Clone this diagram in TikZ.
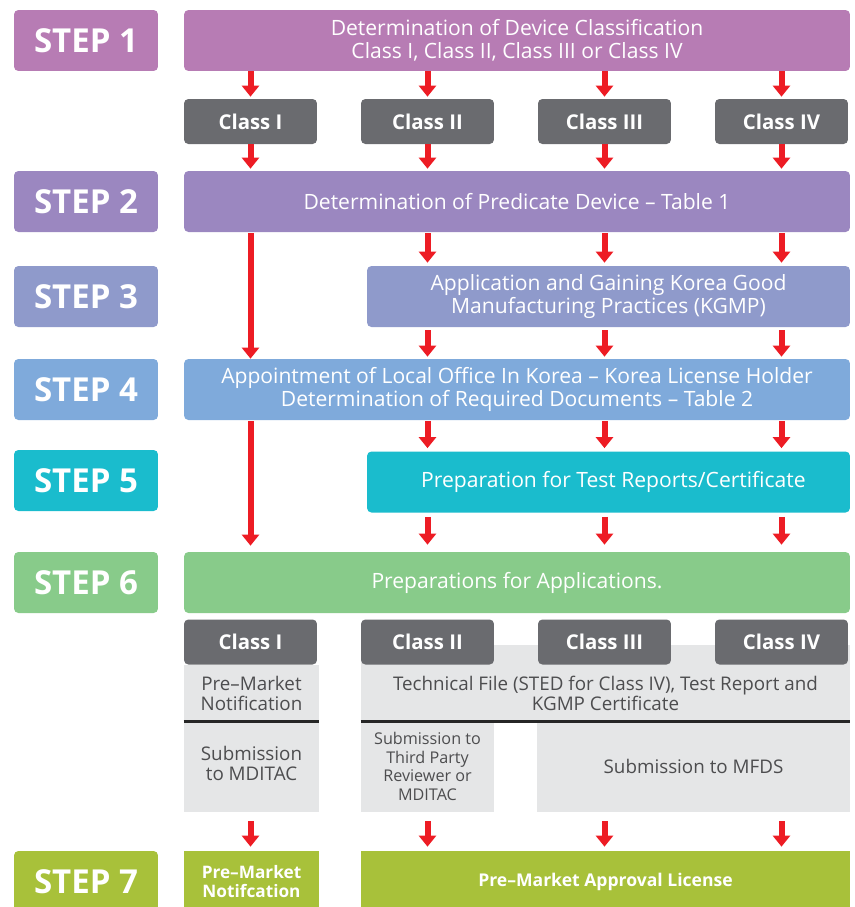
\documentclass[tikz,border=0pt]{standalone}
\usepackage{fontspec}
\setmainfont{Open Sans}
\usetikzlibrary{arrows.meta}

\definecolor{stepone}{HTML}{B77CB4}
\definecolor{steptwo}{HTML}{9B87C0}
\definecolor{stepthree}{HTML}{8F9ACB}
\definecolor{stepfour}{HTML}{7FAADB}
\definecolor{stepfive}{HTML}{1ABCCD}
\definecolor{stepsix}{HTML}{88CB8A}
\definecolor{stepseven}{HTML}{A8C13A}
\definecolor{classgray}{HTML}{6A6B6F}
\definecolor{panelgray}{HTML}{E5E6E7}
\definecolor{paneltext}{HTML}{4D4D4F}
\definecolor{arrowred}{HTML}{ED1C24}

\tikzset{
  stepbox/.style={fill=#1, rounded corners=2.5pt, text=white, inner sep=0pt,
    font=\bfseries\fontsize{18.8}{20}\selectfont,
    minimum width=2.88cm, minimum height=1.22cm},
  mainbox/.style={fill=#1, rounded corners=2.5pt, text=white, inner sep=0pt,
    align=center, font=\fontsize{12}{13.2}\selectfont, minimum height=1.22cm},
  classbox/.style={fill=classgray, rounded corners=2.5pt, text=white, inner sep=0pt,
    font=\bfseries\fontsize{11.6}{13}\selectfont,
    minimum width=2.66cm, minimum height=0.9cm},
  panel/.style={fill=panelgray, text=paneltext, inner sep=0pt, align=center,
    font=\fontsize{10.7}{11.4}\selectfont},
  divider/.style={draw=black!85, line width=0.05cm},
  redarrow/.style={draw=arrowred, line width=0.12cm,
    -{Triangle[width=0.34cm, length=0.22cm]}},
}

\begin{document}
\begin{tikzpicture}[x=0.02cm, y=-0.02cm]

\clip (0,0) rectangle (855,907);
\useasboundingbox (0,0) rectangle (855,907);

% step labels
\node[stepbox=stepone]   (l1) at (86,40.5)  {STEP 1};
\node[stepbox=steptwo]   (l2) at (86,201.5) {STEP 2};
\node[stepbox=stepthree] (l3) at (86,296.5) {STEP 3};
\node[stepbox=stepfour]  (l4) at (86,389.5) {STEP 4};
\node[stepbox=stepfive]  (l5) at (86,480.5) {STEP 5};
\node[stepbox=stepsix]   (l6) at (86,582.5) {STEP 6};
\node[stepbox=stepseven] (l7) at (86,881.5) {STEP 7};

% main boxes
\node[mainbox=stepone, minimum width=13.32cm] (s1) at (517,40.5)
  {Determination of Device Classification\\Class I, Class II, Class III or Class IV};
\node[mainbox=steptwo, minimum width=13.32cm] (s2) at (517,201.5)
  {Determination of Predicate Device – Table 1};
\node[mainbox=stepthree, minimum width=9.66cm] (s3) at (608.5,296.5)
  {Application and Gaining Korea Good\\Manufacturing Practices (KGMP)};
\node[mainbox=stepfour, minimum width=13.32cm] (s4) at (517,389.5)
  {Appointment of Local Office In Korea – Korea License Holder\\Determination of Required Documents – Table 2};
\node[mainbox=stepfive, minimum width=9.66cm] (s5) at (608.5,482)
  {\hspace{0.2cm}Preparation for Test Reports/Certificate};
\node[mainbox=stepsix, minimum width=13.32cm] (s6) at (517,582.5)
  {Preparations for Applications.};

% classes after step 1
\node[classbox] (ca) at (250.5,121.5) {Class I};
\node[classbox] (cb) at (427.5,121.5) {Class II};
\node[classbox] (cc) at (604.5,121.5) {Class III};
\node[classbox] (cd) at (781.5,121.5) {Class IV};

% panels under step 6
\fill[panelgray] (361,645) rectangle (850,665);
\node[panel, minimum width=2.7cm, minimum height=1.12cm] (pa) at (251.5,693)
  {Pre–Market\\Notification};
\node[panel, minimum width=2.7cm, minimum height=1.82cm] (pb) at (251.5,766.5)
  {Submission\\to MDITAC\\[-0.26cm]};
\node[panel, minimum width=9.78cm, minimum height=1.12cm] (pc) at (605.5,693)
  {Technical File (STED for Class IV), Test Report and\\KGMP Certificate};
\node[panel, minimum width=2.66cm, minimum height=1.82cm,
  font=\fontsize{9.2}{10.6}\selectfont] (pd) at (427.5,766.5)
  {Submission to\\Third Party\\Reviewer or\\MDITAC};
\node[panel, minimum width=6.26cm, minimum height=1.82cm] (pe) at (693.5,766.5)
  {Submission to MFDS};
\draw[divider] (pa.south west) -- (pa.south east);
\draw[divider] (pc.south west) -- (pc.south east);

% classes after step 6
\node[classbox] (da) at (250.5,642) {Class I};
\node[classbox] (db) at (427.5,642) {Class II};
\node[classbox] (dc) at (604.5,642) {Class III};
\node[classbox] (dd) at (781.5,642) {Class IV};

% step 7
\node[mainbox=stepseven, minimum width=2.7cm, font=\bfseries\fontsize{9.8}{10.6}\selectfont,
  rounded corners=0pt] (ea) at (251.5,881.5) {Pre–Market\\Notifcation};
\node[mainbox=stepseven, minimum width=9.78cm, font=\bfseries\fontsize{10}{11}\selectfont,
  rounded corners=0pt] (eb) at (605.5,881.5) {Pre–Market Approval License};

% arrows
\foreach \c in {ca,cb,cc,cd} {
  \draw[redarrow] (\c.north |- s1.south) -- ([yshift=0.04cm]\c.north);
  \draw[redarrow] (\c.south) -- ([yshift=0.04cm]\c.north |- s2.north);
}
\foreach \c in {cb,cc,cd} {
  \draw[redarrow] ([yshift=-0.02cm]\c.north |- s2.south) -- ([yshift=0.06cm]\c.north |- s3.north);
  \draw[redarrow] ([yshift=-0.06cm]\c.north |- s3.south) -- ([yshift=0.04cm]\c.north |- s4.north);
  \draw[redarrow] ([yshift=-0.02cm]\c.north |- s4.south) -- ([yshift=0.06cm]\c.north |- s5.north);
  \draw[redarrow] ([yshift=-0.08cm]\c.north |- s5.south) -- ([yshift=0.14cm]\c.north |- s6.north);
}
\draw[redarrow] ([yshift=-0.02cm]ca.north |- s2.south) -- (ca.north |- s4.north);
\draw[redarrow] ([yshift=-0.02cm]ca.north |- s4.south) -- ([yshift=0.12cm]ca.north |- s6.north);
\foreach \c/\e in {ca/ea,cb/eb,cc/eb,cd/eb}
  \draw[redarrow] ([yshift=-0.18cm]\c.north |- pb.south) -- ([yshift=0.08cm]\c.north |- \e.north);

\end{tikzpicture}
\end{document}
